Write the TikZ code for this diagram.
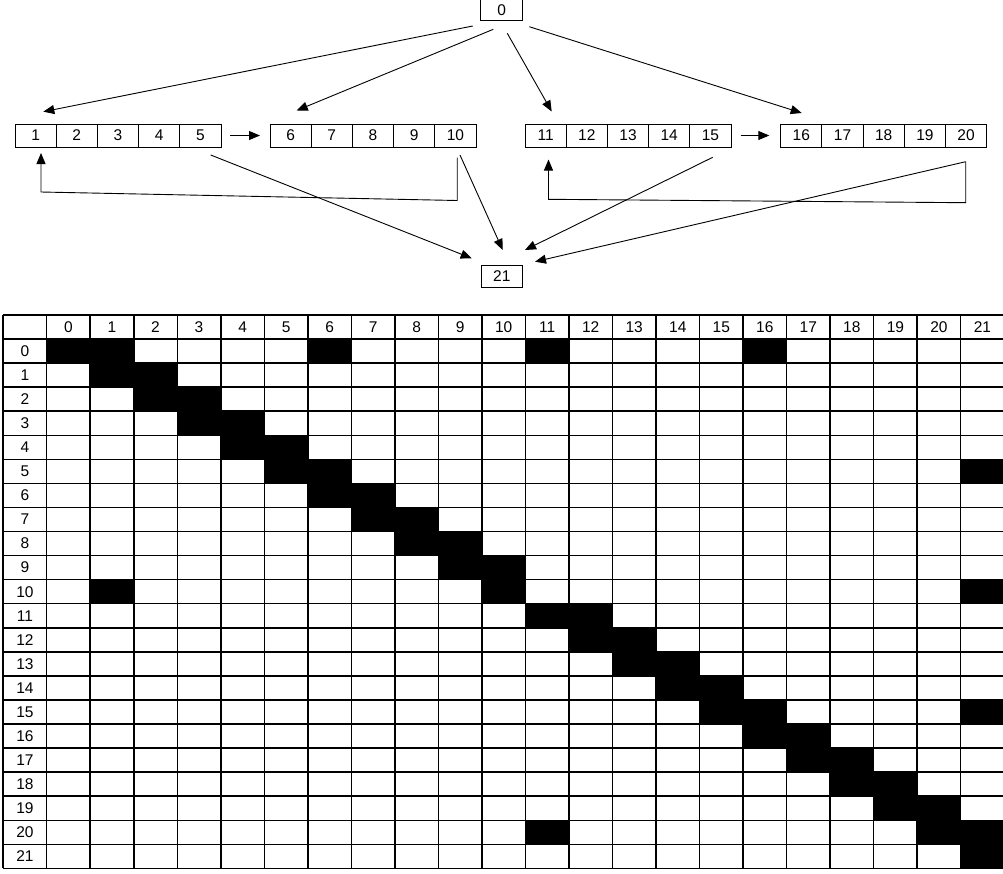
\documentclass[tikz,border=0pt]{standalone}
\usepackage{fontspec}
\setmainfont{Liberation Sans}
\usetikzlibrary{arrows.meta}
\begin{document}
\begin{tikzpicture}[x=1pt,y=-1pt,
  lbl/.style={font=\fontsize{15.5}{17}\selectfont, inner sep=0pt},
  cell/.style={draw, line width=1pt, minimum width=41.2pt, minimum height=23pt, inner sep=0pt, outer sep=0pt, font=\fontsize{15.5}{17}\selectfont, anchor=west},
  single/.style={cell, anchor=center, minimum width=41.6pt, minimum height=21.5pt},
  arr/.style={line width=0.9pt, -{Triangle[length=11pt,width=9pt]}},
  ln/.style={line width=0.9pt},
  gridline/.style={line width=1.5pt}]
\useasboundingbox (0,0) rectangle (1003,873);

% ---------- upper diagram ----------
\node[single] (n0) at (501.7,10) {0};
\node[single, minimum height=22pt] (n21) at (501.8,276.2) {21};
\foreach \s/\x in {1/15, 6/270, 11/525, 16/780.7} {
  \foreach \k in {0,...,4} {
    \pgfmathtruncatemacro\n{\s+\k}
    \node[cell] (c\n) at (\x+41.2*\k, 135.5) {\n};
  }
}

% free ends of connectors
\coordinate (o1) at (472.7,26);
\coordinate (o6) at (493.3,29.3);
\coordinate (o11) at (507.3,33.3);
\coordinate (o16) at (529.3,26.7);
\coordinate (t1) at (43.3,111.7);
\coordinate (t6) at (296.7,110.5);
\coordinate (t11) at (551.7,111.5);
\coordinate (t16) at (801.7,113);

\draw[arr] (o1) -- (t1);
\draw[arr] (o6) -- (t6);
\draw[arr] (o11) -- (t11);
\draw[arr] (o16) -- (t16);

\draw[arr, shorten <=9pt, shorten >=10pt] (c5.east) -- (c6.west);
\draw[arr, shorten <=9.7pt, shorten >=11.4pt] (c15.east) -- (c16.west);

% to node 21
\coordinate (f5) at (210.7,155);
\coordinate (f10) at (460,155);
\coordinate (f15) at (712.7,157.3);
\coordinate (f20) at (965.7,161.7);
\coordinate (e5) at (471.7,258.3);
\coordinate (e10) at (502.7,250);
\coordinate (e15) at (525,250);
\coordinate (e20) at (535,261.7);
\draw[arr] (f5) -- (e5);
\draw[arr] (f10) -- (e10);
\draw[arr] (f15) -- (e15);
\draw[arr] (f20) -- (e20);

% feedback loops
\coordinate (b10) at (457.2,157.5);
\coordinate (b1) at (41,153);
\draw[arr] (b10) -- (457.2,200.5) -- (41,192) -- (b1);
\coordinate (b20) at (965.7,161.7);
\coordinate (b11) at (548.5,159.5);
\draw[arr] (b20) -- (965.7,202.7) -- (548.5,199.3) -- (b11);

% ---------- matrix ----------
\def\cw{43.52}
\def\rh{24.06}
\def\tx{3.2}
\def\ty{315}
\foreach \i in {0,...,23}
  \draw[gridline] (\tx+\cw*\i, \ty) -- (\tx+\cw*\i, \ty+23*\rh);
\foreach \j in {0,...,23}
  \draw[gridline] (\tx, \ty+\rh*\j) -- (\tx+23*\cw, \ty+\rh*\j);
\foreach \r/\c in {0/0,0/1,0/6,0/11,0/16,
  1/1,1/2,2/2,2/3,3/3,3/4,4/4,4/5,5/5,5/6,5/21,6/6,6/7,7/7,7/8,8/8,8/9,9/9,9/10,
  10/1,10/10,10/21,11/11,11/12,12/12,12/13,13/13,13/14,14/14,14/15,15/15,15/16,15/21,
  16/16,16/17,17/17,17/18,18/18,18/19,19/19,19/20,20/11,20/20,20/21,21/21}
  \fill[black] (\tx+\cw*\c+\cw, \ty+\rh*\r+\rh) rectangle ++(\cw, \rh);
\foreach \c in {0,...,21}
  \node[lbl] (h\c) at (\tx+\cw*\c+1.5*\cw, \ty+0.5*\rh) {\c};
\foreach \r in {0,...,21}
  \node[lbl] (r\r) at (\tx+0.5*\cw, \ty+\rh*\r+1.5*\rh) {\r};
\end{tikzpicture}
\end{document}
